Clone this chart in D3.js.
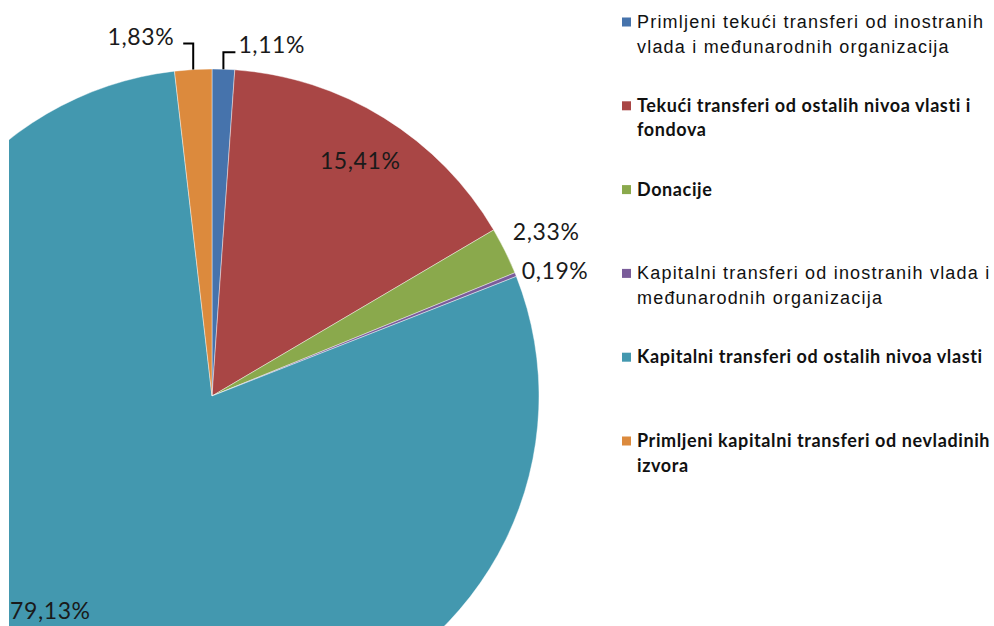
<!DOCTYPE html>
<html>
<head>
<meta charset="utf-8">
<script src="https://cdn.jsdelivr.net/npm/d3@7"></script>
<style>
    body { margin: 0; background: #fff; }
</style>
</head>
<body>
<div class="output"></div>
<script>
// Podaci
const categories = [
    ["Primljeni tekući transferi od inostranih", "vlada i međunarodnih organizacija"],
    ["Tekući transferi od ostalih nivoa vlasti i", "fondova"],
    ["Donacije"],
    ["Kapitalni transferi od inostranih vlada i", "međunarodnih organizacija"],
    ["Kapitalni transferi od ostalih nivoa vlasti"],
    ["Primljeni kapitalni transferi od nevladinih", "izvora"]
];
const shares = [1.11, 15.41, 2.33, 0.19, 79.13, 1.83];
const shareLabels = ["1,11%", "15,41%", "2,33%", "0,19%", "79,13%", "1,83%"];
const colors = ["#4673ac", "#a94645", "#8aa94c", "#7a5c9a", "#4398af", "#dc8a3d"];
const boldLegend = [false, true, true, false, true, true];

const width = 994, height = 626;
const cx = 212, cy = 396, radius = 327;

const svg = d3.select(".output")
    .append("svg")
    .attr("width", width)
    .attr("height", height);

svg.append("defs").append("clipPath")
    .attr("id", "plot")
    .append("rect")
    .attr("x", 9).attr("y", 0)
    .attr("width", width - 9).attr("height", height);

let pie = d3.pie().sort(null).value((d) => d);
let arcs = pie(shares);
let arc = d3.arc().innerRadius(0).outerRadius(radius);

let plot = svg.append("g").attr("clip-path", "url(#plot)");
let pieG = plot.append("g")
    .attr("transform", "translate(" + cx + "," + cy + ")");

// Isečci
pieG.selectAll("path")
    .data(arcs)
    .enter()
    .append("path")
    .attr("d", arc)
    .attr("fill", (d, i) => colors[i])
    .attr("stroke", "#fff")
    .attr("stroke-width", 0.6)
    .attr("stroke-opacity", 0.7);

// Oznake: poluprečnik (u odnosu na R) i pomeraj
let polar = (a, r) => [Math.sin(a) * r, -Math.cos(a) * r];
let mid = (d) => (d.startAngle + d.endAngle) / 2;
const labelStyle = [
    { leader: [-17, 12], anchor: "start" },
    { k: 0.85, dx: 2, dy: 0 },
    { k: 1.14, dx: 0, dy: 0 },
    { k: 1.12, dx: 3, dy: 10 },
    { k: 0.83, dx: -22, dy: -19 },
    { leader: [-26, -10], anchor: "end" }
];

arcs.forEach((d, i) => {
    let s = labelStyle[i];
    if (s.leader) {
        let p0 = polar(mid(d), radius);
        let p1 = [p0[0], p0[1] + s.leader[0]];
        let p2 = [p1[0] + s.leader[1], p1[1]];
        pieG.append("path")
            .attr("d", d3.line()([p0, p1, p2]))
            .attr("fill", "none")
            .attr("stroke", "#000")
            .attr("stroke-width", 2);
        pieG.append("text")
            .attr("x", p2[0] + (s.anchor === "start" ? 3 : -9))
            .attr("y", p2[1] + 1)
            .attr("text-anchor", s.anchor)
            .attr("class", "pct")
            .text(shareLabels[i]);
    } else {
        let p = polar(mid(d), radius * s.k);
        pieG.append("text")
            .attr("x", p[0] + s.dx)
            .attr("y", p[1] + s.dy)
            .attr("text-anchor", "middle")
            .attr("dominant-baseline", "central")
            .attr("class", "pct")
            .text(shareLabels[i]);
    }
});

pieG.selectAll("text.pct")
    .style("font-family", "Lato, 'Open Sans', sans-serif")
    .style("font-size", "23px")
    .style("letter-spacing", "0.6px")
    .style("fill", "#1a1a1a");

// Legenda
let legendY = d3.scalePoint()
    .domain(d3.range(categories.length))
    .range([22, 441]);

let legend = svg.append("g").attr("transform", "translate(622,0)");
let items = legend.selectAll("g.item")
    .data(categories)
    .enter()
    .append("g")
    .attr("class", "item")
    .attr("transform", (d, i) => "translate(0," + legendY(i) + ")");

items.append("rect")
    .attr("x", 0).attr("y", -4.5)
    .attr("width", 9).attr("height", 9)
    .attr("fill", (d, i) => colors[i]);

items.each(function (lines, i) {
    let t = d3.select(this).append("text")
        .attr("x", 15)
        .attr("y", 6)
        .style("fill", "#111");
    if (boldLegend[i]) {
        t.style("font-family", "Lato, sans-serif")
            .style("font-weight", "bold")
            .style("font-size", "18px")
            .style("letter-spacing", "0.6px");
    } else {
        t.style("font-family", "'Liberation Sans', Arial, sans-serif")
            .style("font-size", "18px")
            .style("letter-spacing", "1.2px");
    }
    lines.forEach((line, j) => {
        t.append("tspan")
            .attr("x", 15)
            .attr("dy", j === 0 ? 0 : 24.5)
            .text(line);
    });
});
</script>
</body>
</html>
